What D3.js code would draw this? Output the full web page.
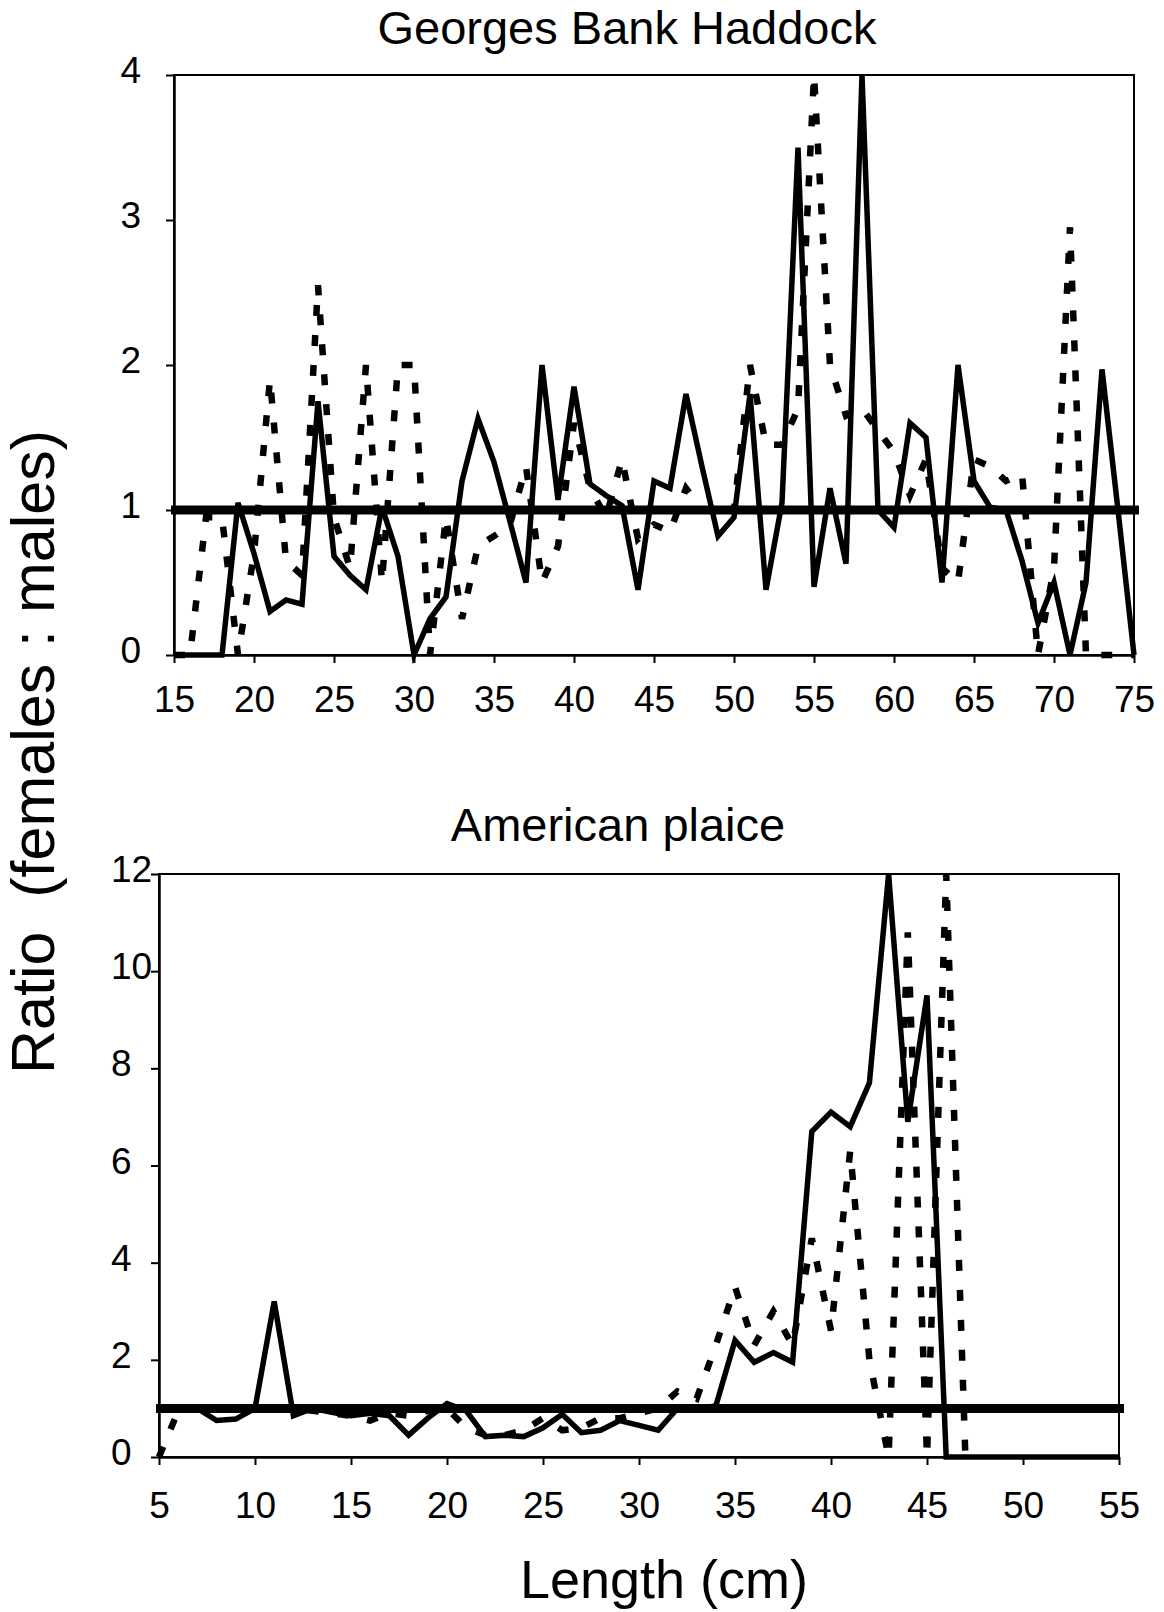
<!DOCTYPE html>
<html>
<head>
<style>
  body { margin: 0; background: #fff; }
  text { font-family: "Liberation Sans", Arial, sans-serif; fill: #000; }
</style>
</head>
<body>

<script src="https://d3js.org/d3.v7.min.js"></script>
<script>

const width = 1164;
const height = 1612;

// Georges Bank Haddock, length 15..75 cm
const haddockLen = [15,16,17,18,19,20,21,22,23,24,25,26,27,28,29,30,31,32,33,34,35,36,37,38,39,40,
  41,42,43,44,45,46,47,48,49,50,51,52,53,54,55,56,57,58,59,60,61,62,63,64,65,66,67,68,69,70,
  71,72,73,74,75];
const haddockSolid = [0,0,0,0,1.05, 0.7,0.3,0.38,0.35,1.75, 0.68,0.55,0.45,1.02,0.68,
  0,0.25,0.4,1.2,1.63, 1.33,0.92,0.5,2.0,1.07, 1.85,1.18,1.1,1.03,0.45,
  1.2,1.15,1.8,1.3,0.82, 0.95,1.8,0.45,1.05,3.5, 0.47,1.15,0.63,4.0,1.0,
  0.88,1.6,1.5,0.5,2.0, 1.2,1.02,1.0,0.65,0.22, 0.5,0,0.5,1.97,1.0, 0];
const haddockDotted = [0,0,0.95,0.95,0, 0.7,1.9,0.65,0.55,2.55, 0.95,0.6,2.0,0.5,2.0,
  2.0,0,0.95,0.25,0.75, 0.82,0.9,1.3,0.5,0.75, 1.6,1.15,0.95,1.35,0.8,
  0.9,0.85,1.15,1.0,1.0, 1.0,2.0,1.45,1.45,1.7, 4.0,2.0,1.65,1.7,1.55,
  1.4,1.1,1.35,0.6,0.5, 1.35,1.3,1.2,1.25,0, 0.6,2.95,0,0,0, 0];

// American plaice, length 5..55 cm
const plaiceLen = [5,6,7,8,9,10,11,12,13,14,15,16,17,18,19,20,21,22,23,24,25,26,27,28,29,30,
  31,32,33,34,35,36,37,38,39,40,41,42,43,44,45,46,47,48,49,50,51,52,53,54,55];
const plaiceSolid = [1.0,1.0,1.0,0.75,0.78, 1.0,3.2,0.85,1.0,0.92, 0.85,0.9,0.85,0.45,0.8,
  1.1,0.95,0.42,0.45,0.42, 0.6,0.88,0.5,0.55,0.75, 0.65,0.55,1.0,1.0,1.05,
  2.4,1.95,2.15,1.95,6.7, 7.1,6.8,7.7,12.0,6.9, 9.5,0,0,0,0, 0,0,0,0,0, 0];
const plaiceDotted = [0,0.95,1.0,1.0,1.0, 1.0,1.0,1.0,0.95,0.9, 0.85,0.75,0.9,0.85,0.95,
  1.0,0.6,0.45,0.45,0.55, 0.8,0.55,0.6,0.8,0.8, 0.9,1.0,1.35,1.2,2.3,
  3.5,2.3,3.0,2.3,4.5, 2.6,6.3,2.0,0,10.8, 0,12,0];

const haddockYTicks = [0, 1, 2, 3, 4];
const haddockXTicks = [15, 20, 25, 30, 35, 40, 45, 50, 55, 60, 65, 70, 75];
const plaiceYTicks = [0, 2, 4, 6, 8, 10, 12];
const plaiceXTicks = [5, 10, 15, 20, 25, 30, 35, 40, 45, 50, 55];

const svg = d3.select('body')
  .append('svg')
  .attr('width', width)
  .attr('height', height);

function panel(opt) {
  const x = d3.scaleLinear().domain(opt.xDomain).range([opt.left, opt.right]);
  const y = d3.scaleLinear().domain(opt.yDomain).range([opt.bottom, opt.top]);

  const g = svg.append('g');

  // frame
  g.append('rect')
    .attr('x', opt.left).attr('y', opt.top)
    .attr('width', opt.right - opt.left).attr('height', opt.bottom - opt.top)
    .attr('fill', 'none').attr('stroke', '#000').attr('stroke-width', 2);

  const fmt = d3.format('d');
  const xAxis = g.append('g')
    .attr('transform', `translate(0,${opt.bottom})`)
    .call(d3.axisBottom(x).tickValues(opt.xTicks).tickFormat(fmt).tickSize(8).tickSizeOuter(0));
  const yAxis = g.append('g')
    .attr('transform', `translate(${opt.left},0)`)
    .call(d3.axisLeft(y).tickValues(opt.yTicks).tickFormat(fmt).tickSize(8).tickSizeOuter(0));

  [xAxis, yAxis].forEach(a => {
    a.attr('font-size', null).attr('font-family', null);
    a.select('.domain').attr('stroke-width', 2.5);
    a.selectAll('.tick line').attr('stroke-width', 2);
    a.selectAll('.tick text').style('font-size', '37px').attr('fill', '#000');
  });
  xAxis.selectAll('.tick text').attr('y', opt.xLabelY).attr('dy', 0);
  yAxis.selectAll('.tick text')
    .attr('x', opt.yLabelX).attr('dy', 0).attr('y', 7.5)
    .attr('text-anchor', opt.yLabelAnchor);

  const line = d3.line().x(d => x(d[0])).y(d => y(d[1]));

  g.append('path')
    .datum(opt.dotted.map((v, i) => [opt.len[i], v]))
    .attr('d', line)
    .attr('fill', 'none').attr('stroke', '#000')
    .attr('stroke-width', 6.5).attr('stroke-dasharray', '11,19');

  g.append('path')
    .datum(opt.solid.map((v, i) => [opt.len[i], v]))
    .attr('d', line)
    .attr('fill', 'none').attr('stroke', '#000')
    .attr('stroke-width', 5.5).attr('stroke-linejoin', 'miter');

  // reference line at ratio 1
  g.append('line')
    .attr('x1', opt.left - 3).attr('x2', opt.right + 5)
    .attr('y1', y(1)).attr('y2', y(1))
    .attr('stroke', '#000').attr('stroke-width', 9);

  g.append('text')
    .attr('x', opt.titleX).attr('y', opt.titleY)
    .attr('text-anchor', 'middle')
    .style('font-size', '47px')
    .text(opt.title);
}

panel({
  title: 'Georges Bank Haddock', titleX: 627, titleY: 44,
  left: 174, right: 1134, top: 75, bottom: 655,
  xDomain: [15, 75], yDomain: [0, 4],
  xTicks: haddockXTicks, yTicks: haddockYTicks,
  xLabelY: 57, yLabelX: -33, yLabelAnchor: 'end',
  len: haddockLen, solid: haddockSolid, dotted: haddockDotted
});

panel({
  title: 'American plaice', titleX: 618, titleY: 841,
  left: 159, right: 1119, top: 874, bottom: 1457,
  xDomain: [5, 55], yDomain: [0, 12],
  xTicks: plaiceXTicks, yTicks: plaiceYTicks,
  xLabelY: 61, yLabelX: -48, yLabelAnchor: 'start',
  len: plaiceLen, solid: plaiceSolid, dotted: plaiceDotted
});

svg.append('text')
  .attr('transform', 'translate(54,752) rotate(-90)')
  .attr('text-anchor', 'middle')
  .style('font-size', '61px')
  .style('white-space', 'pre')
  .text('Ratio  (females : males)');

svg.append('text')
  .attr('x', 664).attr('y', 1598)
  .attr('text-anchor', 'middle')
  .style('font-size', '54px')
  .text('Length (cm)');

</script>
</body>
</html>
